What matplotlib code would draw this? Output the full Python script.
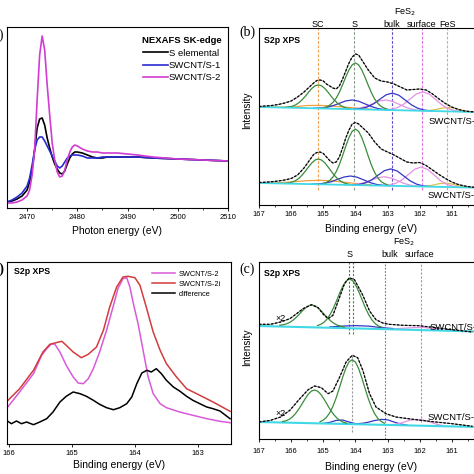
import matplotlib
matplotlib.use('Agg')
import matplotlib.pyplot as plt
from matplotlib.ticker import MultipleLocator

plt.rcParams['font.family'] = 'Liberation Sans'
plt.rcParams['font.size'] = 6
plt.rcParams['axes.linewidth'] = 0.8
plt.rcParams['xtick.major.size'] = 2.5
plt.rcParams['xtick.minor.size'] = 1.5
plt.rcParams['xtick.major.width'] = 0.6
plt.rcParams['xtick.minor.width'] = 0.5
plt.rcParams['xtick.labelsize'] = 5.5
plt.rcParams['xtick.major.pad'] = 2

# ---------------- (a) NEXAFS S K-edge ----------------
nex_e = [2466, 2467, 2468, 2469, 2470, 2470.5, 2471, 2471.5, 2472, 2472.5, 2473,
         2473.5, 2474, 2474.5, 2475, 2475.5, 2476, 2476.5, 2477, 2477.5, 2478,
         2478.5, 2479, 2479.5, 2480, 2481, 2482, 2483, 2484, 2485, 2486, 2488,
         2490, 2492, 2495, 2500, 2505, 2510]
nex_s_elem = [6, 7, 9, 12, 18, 26, 38, 58, 80, 89, 90, 83, 70, 60, 51, 44, 39, 35,
              34, 37, 44, 50, 54, 56, 56, 55, 53, 51, 50, 50, 51, 51, 51, 51, 50,
              49, 48, 47]
nex_swcnt1 = [6, 8, 11, 15, 22, 30, 43, 58, 68, 71, 71, 67, 62, 57, 52, 47, 42, 40,
              42, 46, 50, 52, 53, 53, 53, 52, 50, 50, 50, 51, 51, 51, 51, 51, 50,
              49, 48, 47]
nex_swcnt2 = [5, 5, 6, 8, 12, 18, 33, 58, 108, 153, 172, 158, 123, 93, 65, 48, 36,
              31, 32, 38, 48, 56, 61, 63, 62, 59, 57, 56, 56, 55, 55, 55, 54, 53,
              51, 49, 48, 47]
nex_labels = ['S elemental', 'SWCNT/S-1', 'SWCNT/S-2']

# ---------------- (b) S2p XPS, fitted ----------------
b_env_e = [167.0, 166.8, 166.6, 166.4, 166.2, 166.0, 165.8, 165.6, 165.4, 165.3,
           165.2, 165.1, 165.0, 164.9, 164.8, 164.7, 164.6, 164.5, 164.4, 164.3,
           164.2, 164.1, 164.0, 163.9, 163.8, 163.6, 163.4, 163.2, 163.0, 162.8,
           162.6, 162.4, 162.2, 162.0, 161.8, 161.6, 161.4, 161.2, 161.0, 160.8,
           160.6, 160.4, 160.2]
b_env_up = [93.5, 94, 94.5, 95.5, 97, 99, 103, 108, 114, 117, 119.5, 120, 119, 116,
            114, 112, 111, 114, 121, 129, 137, 143, 146, 145, 140, 130, 122, 119,
            118, 116, 113, 110, 110.5, 111, 110, 106, 101, 96.5, 93, 90.5, 89, 88.3,
            88]
b_env_lo = [17.5, 17.8, 18.3, 19, 20, 21.5, 25, 32, 41, 45.5, 47.5, 48, 46.5, 43,
            39.5, 37, 38, 43, 52, 62, 70, 76, 77.5, 76, 73, 67, 58, 51, 48, 45,
            41.5, 38, 37, 37.5, 34.5, 30, 25.5, 21.5, 18, 15.5, 14, 13, 12.5]
b_base_e = [167.0, 160.2]
b_base_up = [93.0, 87.9]
b_base_lo = [17.0, 12.3]

# green doublet components
b_sc_e = [166.15, 166.05, 165.95, 165.85, 165.75, 165.65, 165.55, 165.45, 165.35,
          165.25, 165.15, 165.05, 164.95, 164.85, 164.75, 164.65, 164.55, 164.45,
          164.35, 164.25, 164.15]
b_sc_up = [92.8, 93.2, 93.9, 95.3, 97.5, 100.5, 104.1, 108.1, 111.8, 114.3, 115.1,
           114.1, 111.5, 107.7, 103.5, 99.7, 96.6, 94.3, 92.7, 91.8, 91.3]
b_sc_lo = [16.8, 17.2, 18.1, 19.6, 21.9, 25.2, 29.2, 33.4, 37.3, 40.1, 41.0, 39.9,
           37.1, 33.0, 28.6, 24.5, 21.1, 18.6, 17.0, 16.0, 15.4]
b_s_e = [165.0, 164.9, 164.8, 164.7, 164.6, 164.5, 164.4, 164.3, 164.2, 164.1, 164.0,
         163.9, 163.8, 163.7, 163.6, 163.5, 163.4, 163.3, 163.2, 163.1, 163.0]
b_s_up = [92.3, 93.1, 94.8, 97.6, 101.8, 107.8, 115.2, 123.1, 130.2, 135.2, 137.1,
          135.1, 129.9, 122.6, 114.6, 107.1, 100.9, 96.5, 93.6, 91.8, 90.8]
b_s_lo = [16.6, 17.6, 19.6, 23.0, 28.2, 35.5, 44.3, 53.9, 62.5, 68.8, 70.9, 68.6,
          62.3, 53.5, 43.7, 34.7, 27.4, 22.0, 18.4, 16.4, 15.2]

# small components (upper / lower spectrum)
b_blue1_e_up = [165.3, 165.1, 164.9, 164.7, 164.5, 164.3, 164.1, 163.9, 163.7,
                163.5, 163.3, 163.1, 162.9]
b_blue1_up = [91.8, 92.0, 92.6, 94.3, 96.7, 99.1, 100.0, 98.8, 96.1, 93.4, 91.4,
              90.5, 90.0]
b_blue1_e_lo = [165.35, 165.15, 164.95, 164.75, 164.55, 164.35, 164.15, 163.95,
                163.75, 163.55, 163.35, 163.15, 162.95]
b_blue1_lo = [15.9, 16.1, 16.8, 18.3, 20.8, 23.0, 24.0, 22.8, 20.2, 17.5, 15.6,
              14.7, 14.3]
b_bulk_e_up = [164.05, 163.85, 163.65, 163.45, 163.25, 163.05, 162.85, 162.65,
               162.45, 162.25, 162.05, 161.85, 161.65]
b_bulk_up = [91.0, 91.4, 92.8, 95.9, 100.5, 105.1, 106.9, 104.8, 99.9, 95.0, 91.6,
             89.9, 89.2]
b_bulk_e_lo = [164.1, 163.9, 163.7, 163.5, 163.3, 163.1, 162.9, 162.7, 162.5, 162.3,
               162.1, 161.9, 161.7]
b_bulk_lo = [15.2, 15.5, 17.0, 20.0, 24.7, 29.3, 31.1, 29.0, 24.1, 19.2, 15.9, 14.1,
             13.5]
b_pink_e_up = [164.25, 164.05, 163.85, 163.65, 163.45, 163.25, 163.05, 162.85,
               162.65, 162.45, 162.25, 162.05, 161.85]
b_pink_up = [91.0, 91.2, 92.0, 93.8, 96.4, 99.0, 100.0, 98.7, 95.8, 92.9, 90.8,
             89.7, 89.2]
b_pink_e_lo = [164.3, 164.1, 163.9, 163.7, 163.5, 163.3, 163.1, 162.9, 162.7, 162.5,
               162.3, 162.1, 161.9]
b_pink_lo = [15.2, 15.4, 16.0, 17.6, 20.0, 22.3, 23.3, 22.0, 19.5, 16.7, 14.9, 14.0,
             13.5]
b_surf_e_up = [163.1, 162.9, 162.7, 162.5, 162.3, 162.1, 161.9, 161.7, 161.5, 161.3,
               161.1, 160.9, 160.7]
b_surf_up = [90.3, 90.7, 92.3, 95.8, 101.0, 106.1, 108.2, 105.8, 100.4, 94.9, 91.2,
             89.3, 88.5]
b_surf_e_lo = [163.15, 162.95, 162.75, 162.55, 162.35, 162.15, 161.95, 161.75,
               161.55, 161.35, 161.15, 160.95, 160.75]
b_surf_lo = [14.5, 15.1, 16.6, 20.2, 25.5, 30.8, 33.0, 30.5, 25.0, 19.3, 15.5, 13.7,
             12.8]
b_fes_e_up = [161.9, 161.7, 161.5, 161.3, 161.1, 160.9, 160.7, 160.5, 160.3]
b_fes_up = [89.3, 89.5, 90.5, 91.9, 92.6, 91.7, 89.9, 88.6, 88.1]
b_fes_e_lo = [162.0, 161.8, 161.6, 161.4, 161.2, 161.0, 160.8, 160.6, 160.4]
b_fes_lo = [13.6, 13.8, 14.8, 16.3, 16.9, 16.0, 14.2, 13.0, 12.5]
b_orng_e = [166.7, 166.3, 165.9, 165.5, 165.1, 164.7, 164.3, 163.9, 163.5]
b_orng_up = [92.9, 92.9, 93.2, 94.5, 94.6, 93.9, 92.8, 91.7, 90.8]
b_orng_lo = [17.0, 17.5, 18.3, 19.3, 19.7, 19.0, 17.6, 16.2, 15.2]

b_line_pos = [165.16, 164.03, 162.87, 161.93, 161.14]
b_line_col = ['#f0a050', '#8c9a8c', '#5a50c8', '#e070e0', '#e0b050']
b_peak_names = ['SC', 'S', 'bulk', 'surface', 'FeS']
xps_ticks = [167, 166, 165, 164, 163, 162, 161]

# ---------------- (c) S2p XPS after treatment ----------------
c_env_e = [167.0, 166.64, 166.33, 166.04, 165.83, 165.63, 165.37, 165.16, 165.0,
           164.85, 164.7, 164.49, 164.34, 164.19, 164.03, 163.88, 163.77, 163.56,
           163.36, 163.15, 162.95, 162.53, 162.02, 161.5, 160.99, 160.36]
c_env_up = [114.7, 114.7, 117, 120.3, 125.3, 130.3, 134.3, 131.3, 124.7, 120.3,
            123.7, 142, 155.3, 161.3, 159.3, 150.3, 143.7, 128, 119.3, 116, 114.7,
            113.7, 113.3, 111.3, 109.3, 107]
c_env_e_lo = [167.0, 166.64, 166.33, 166.04, 165.73, 165.47, 165.27, 165.06, 164.85,
              164.7, 164.49, 164.29, 164.1, 163.93, 163.77, 163.56, 163.36, 163.05,
              162.74, 162.12, 161.5, 160.99, 160.36]
c_env_lo = [17, 18.7, 22, 28.7, 40.3, 49.3, 53, 51.3, 45.3, 48, 62, 77, 83.7, 81.3,
            68.7, 45.3, 32, 25.3, 22, 19.3, 17, 15.3, 12.7]
c_base_e = [167.0, 160.2]
c_base_up = [113.0, 107.5]
c_base_lo = [17.0, 12.0]
c_g1_e_up = [166.35, 166.25, 166.15, 166.05, 165.95, 165.85, 165.75, 165.65, 165.55,
             165.45, 165.35, 165.25, 165.15, 165.05, 164.95, 164.85, 164.75, 164.65,
             164.55, 164.45, 164.35]
c_g1_up = [113.8, 114.2, 115.1, 116.5, 118.6, 121.4, 124.7, 128.2, 131.2, 133.3,
           134.0, 133.1, 130.8, 127.6, 124.0, 120.6, 117.6, 115.3, 113.7, 112.6, 112.0]
c_g2_e_up = [165.18, 165.08, 164.98, 164.88, 164.78, 164.68, 164.58, 164.48, 164.38,
             164.28, 164.18, 164.08, 163.98, 163.88, 163.78, 163.68, 163.58, 163.48,
             163.38, 163.28, 163.18]
c_g2_up = [113.5, 114.6, 116.7, 120.0, 124.9, 131.2, 138.8, 146.7, 153.6, 158.3,
           160.0, 158.1, 153.2, 146.1, 138.2, 130.4, 123.9, 118.8, 115.3, 113.0, 111.8]
c_g1_e_lo = [166.27, 166.17, 166.07, 165.97, 165.87, 165.77, 165.67, 165.57, 165.47,
             165.37, 165.27, 165.17, 165.07, 164.97, 164.87, 164.77, 164.67, 164.57,
             164.47, 164.37, 164.27]
c_g1_lo = [17.4, 18.1, 19.5, 21.8, 25.2, 29.5, 34.6, 39.9, 44.7, 47.9, 49.0, 47.7,
           44.4, 39.5, 34.0, 28.7, 24.2, 20.8, 18.3, 16.7, 15.8]
c_g2_e_lo = [165.1, 165.0, 164.9, 164.8, 164.7, 164.6, 164.5, 164.4, 164.3, 164.2,
             164.1, 164.0, 163.9, 163.8, 163.7, 163.6, 163.5, 163.4, 163.3, 163.2,
             163.1]
c_g2_lo = [17.3, 18.9, 21.7, 26.2, 32.7, 41.1, 51.1, 61.5, 70.7, 77.1, 79.3, 77.0,
           70.4, 61.0, 50.5, 40.4, 31.8, 25.1, 20.5, 17.6, 15.8]
c_blue_e_lo = [165.0, 164.8, 164.6, 164.4, 164.2, 164.0, 163.8, 163.6, 163.4, 163.2,
               163.0, 162.8, 162.6, 162.4]
c_blue_lo = [15.6, 16.6, 18.6, 19.0, 17.0, 15.3, 15.6, 16.8, 18.5, 19.6, 19.2, 17.0,
             15.0, 14.0]
c_pink_e_lo = [162.9, 162.7, 162.5, 162.3, 162.1, 161.9, 161.7, 161.5, 161.3]
c_pink_lo = [14.2, 15.0, 16.8, 18.8, 19.6, 19.0, 17.2, 15.0, 13.6]
c_blue_e_up = [164.8, 164.4, 164.0, 163.6, 163.2, 162.8]
c_blue_up = [112.0, 112.9, 113.4, 112.9, 111.4, 110.4]
c_pink_e_up = [162.8, 162.5, 162.2, 161.9, 161.6, 161.3]
c_pink_up = [110.2, 110.8, 111.4, 111.6, 110.5, 109.4]

# ---------------- (d) S2p XPS, SWCNT/S-2 vs S-2i ----------------
d_s2_e = [166.04, 165.83, 165.61, 165.48, 165.40, 165.32, 165.27, 165.19, 165.09,
          164.98, 164.90, 164.82, 164.74, 164.66, 164.56, 164.45, 164.34, 164.27,
          164.19, 164.13, 164.08, 164.03, 163.95, 163.87, 163.79, 163.71, 163.60,
          163.50, 163.29, 163.08, 162.86, 162.65, 162.49]
d_s2 = [35.3, 52, 70.3, 88.7, 95.3, 100.3, 99.7, 92, 78.7, 67, 61, 60.3, 65.3, 75.3,
        92, 113.7, 138.7, 155.3, 165.3, 166.3, 157, 142, 120.3, 93.7, 67, 50.3, 40.3,
        36.3, 32, 28.7, 25.3, 22.7, 21.3]
d_s2i_e = [166.04, 165.83, 165.61, 165.46, 165.35, 165.27, 165.16, 165.09, 164.98,
           164.85, 164.74, 164.61, 164.50, 164.40, 164.29, 164.19, 164.11, 164.00,
           163.92, 163.82, 163.71, 163.60, 163.50, 163.34, 163.18, 162.97, 162.76,
           162.49]
d_s2i = [42, 55.3, 73.7, 92, 99.7, 101, 102.7, 98.7, 92, 86.3, 89.7, 97, 113.7, 137,
         157, 167, 167.7, 166.3, 158.7, 137, 112, 93.7, 80.3, 67, 55.3, 48.7, 42, 32.7]
d_diff_e = [166.04, 165.96, 165.88, 165.80, 165.72, 165.61, 165.51, 165.40, 165.30,
            165.19, 165.09, 164.98, 164.87, 164.77, 164.66, 164.56, 164.45, 164.34,
            164.24, 164.13, 164.05, 163.97, 163.89, 163.81, 163.74, 163.66, 163.58,
            163.50, 163.39, 163.29, 163.18, 163.08, 162.97, 162.86, 162.76, 162.65,
            162.49]
d_diff = [23.7, 20.3, 23, 20.3, 22, 19.3, 22, 25.3, 32, 42, 47.7, 52, 50.3, 47.7,
          43.7, 39.7, 36.3, 34.3, 36.3, 40.3, 47, 60.3, 71, 73.7, 72, 75.3, 70.3, 63.7,
          57, 53, 47.7, 43.7, 40.3, 37, 35.3, 33, 25.3]
d_labels = ['SWCNT/S-2', 'SWCNT/S-2i', 'difference']

GREEN = '#3b8c3b'
BLUE = '#3535c5'
VIOLET = '#e592e5'
ORANGE = '#f0a040'
YELLOW = '#d8c050'
CYAN = '#3fd8e6'

W = 474.0
fig = plt.figure(figsize=(4.74, 4.74), dpi=100)


def box(x0, y0, x1, y1):
    return [x0 / W, 1 - y1 / W, (x1 - x0) / W, (y1 - y0) / W]


def bare(ax):
    ax.set_yticks([])
    ax.tick_params(axis='x', which='both', direction='out', top=False)


def envelope(ax, e, y):
    ax.plot(e, y, color='#777777', lw=0.6)
    ax.plot(e, y, color='black', lw=0.9, ls=(0, (2, 1.2)))


# ---- panel (a)
ax = fig.add_axes(box(7, 27, 228, 208))
ax.plot(nex_e, nex_s_elem, color='black', lw=1.2, label=nex_labels[0])
ax.plot(nex_e, nex_swcnt1, color='#2a2ad0', lw=1.2, label=nex_labels[1])
ax.plot(nex_e, nex_swcnt2, color='#d23cd2', lw=1.2, label=nex_labels[2])
ax.set_xlim(2466, 2510)
ax.set_ylim(0, 181)
ax.xaxis.set_major_locator(MultipleLocator(10))
ax.xaxis.set_minor_locator(MultipleLocator(5))
bare(ax)
ax.set_xlabel('Photon energy (eV)', fontsize=7.5, labelpad=3.5)
leg = ax.legend(loc='upper right', bbox_to_anchor=(1.0, 0.985), frameon=False,
                title='NEXAFS SK-edge', fontsize=6.8, handlelength=2.6,
                handletextpad=0.15, labelspacing=0.35, borderpad=0.2,
                title_fontproperties={'weight': 'bold', 'size': 6.8})
leg._legend_box.align = 'right'
fig.text(4 / W, 1 - 35 / W, '(a)', family='Liberation Serif', fontsize=10,
         ha='right', va='center')

# ---- panel (b)
ax = fig.add_axes(box(259, 28, 484, 205))
ax.vlines(b_line_pos, 10, 172, colors=b_line_col, lw=0.8, linestyles=(0, (2.5, 1.5)))
for e_up, y_up, e_lo, y_lo, col in [
        (b_orng_e, b_orng_up, b_orng_e, b_orng_lo, ORANGE),
        (b_fes_e_up, b_fes_up, b_fes_e_lo, b_fes_lo, YELLOW),
        (b_pink_e_up, b_pink_up, b_pink_e_lo, b_pink_lo, VIOLET),
        (b_surf_e_up, b_surf_up, b_surf_e_lo, b_surf_lo, VIOLET),
        (b_blue1_e_up, b_blue1_up, b_blue1_e_lo, b_blue1_lo, BLUE),
        (b_bulk_e_up, b_bulk_up, b_bulk_e_lo, b_bulk_lo, BLUE),
        (b_sc_e, b_sc_up, b_sc_e, b_sc_lo, GREEN),
        (b_s_e, b_s_up, b_s_e, b_s_lo, GREEN)]:
    ax.plot(e_up, y_up, color=col, lw=0.9)
    ax.plot(e_lo, y_lo, color=col, lw=0.9)
ax.plot(b_base_e, b_base_up, color=CYAN, lw=1.3)
ax.plot(b_base_e, b_base_lo, color=CYAN, lw=1.3)
envelope(ax, b_env_e, b_env_up)
envelope(ax, b_env_e, b_env_lo)
ax.set_xlim(167, 160)
ax.set_ylim(-5, 172)
ax.set_xticks(xps_ticks)
ax.xaxis.set_minor_locator(MultipleLocator(0.5))
bare(ax)
ax.set_xlabel('Binding energy (eV)', fontsize=7.5, labelpad=4.5)
ax.text(0.022, 0.955, 'S2p XPS', transform=ax.transAxes, fontsize=6.3,
        fontweight='bold', va='top')
trans = ax.get_xaxis_transform()
for pos, name in zip(b_line_pos, b_peak_names):
    ax.text(pos, 1.008, name, transform=trans, fontsize=6.5, ha='center',
            va='baseline')
ax.text(162.45, 1.074, 'FeS$_2$', transform=trans, fontsize=6.5, ha='center',
        va='baseline')
ax.text(161.71, 78.5, 'SWCNT/S-1', fontsize=6.8, va='center')
ax.text(161.77, 4, 'SWCNT/S-2', fontsize=6.8, va='center')
fig.text(247 / W, 1 - 110 / W, 'Intensity', rotation=90, fontsize=7.2,
         ha='center', va='center')
fig.text(247 / W, 1 - 32 / W, '(b)', family='Liberation Serif', fontsize=10,
         ha='center', va='center')

# ---- panel (d) bottom left
ax = fig.add_axes(box(7, 262, 231, 444))
ax.plot(d_s2_e, d_s2, color='#d95ad9', lw=1.1, label=d_labels[0])
ax.plot(d_s2i_e, d_s2i, color='#d23c3c', lw=1.1, label=d_labels[1])
ax.plot(d_diff_e, d_diff, color='black', lw=1.1, label=d_labels[2])
ax.set_xlim(166.03, 162.475)
ax.set_ylim(0, 182)
ax.xaxis.set_major_locator(MultipleLocator(1))
bare(ax)
ax.set_xlabel('Binding energy (eV)', fontsize=7.5, labelpad=2)
ax.text(0.03, 0.97, 'S2p XPS', transform=ax.transAxes, fontsize=6.3,
        fontweight='bold', va='top')
ax.legend(loc='upper right', bbox_to_anchor=(0.985, 0.99), frameon=False,
          fontsize=5.3, handlelength=3.2, handletextpad=0.5, labelspacing=0.4)
fig.text(4 / W, 1 - 269 / W, '(d)', family='Liberation Serif', fontsize=10,
         fontweight='bold', ha='right', va='center')

# ---- panel (c)
ax = fig.add_axes(box(259, 262, 484, 439))
ax.vlines([164.21, 164.07], 105, 177, colors=GREEN, lw=0.8, linestyles=(0, (2, 1.5)))
ax.vlines([164.1], 7, 85, colors='#999999', lw=0.8, linestyles=(0, (2, 1.5)))
ax.vlines([163.08], 0, 177, colors='#8060c0', lw=0.8, linestyles=(0, (1.5, 1.5)))
ax.vlines([161.96], 17, 177, colors='#e070e0', lw=0.8, linestyles=(0, (2, 1.5)))
ax.plot(c_blue_e_up, c_blue_up, color=BLUE, lw=0.9)
ax.plot(c_pink_e_up, c_pink_up, color=VIOLET, lw=0.9)
ax.plot(c_blue_e_lo, c_blue_lo, color=BLUE, lw=0.9)
ax.plot(c_pink_e_lo, c_pink_lo, color=VIOLET, lw=0.9)
ax.plot(c_base_e, c_base_up, color=CYAN, lw=1.5)
ax.plot(c_base_e, c_base_lo, color=CYAN, lw=1.5)
ax.plot(c_g1_e_up, c_g1_up, color=GREEN, lw=0.9)
ax.plot(c_g2_e_up, c_g2_up, color=GREEN, lw=0.9)
ax.plot(c_g1_e_lo, c_g1_lo, color=GREEN, lw=0.9)
ax.plot(c_g2_e_lo, c_g2_lo, color=GREEN, lw=0.9)
envelope(ax, c_env_e, c_env_up)
envelope(ax, c_env_e_lo, c_env_lo)
ax.set_xlim(167, 160)
ax.set_ylim(0, 177)
ax.set_xticks(xps_ticks)
ax.xaxis.set_minor_locator(MultipleLocator(0.5))
bare(ax)
ax.tick_params(axis='x', which='major', pad=4)
ax.set_xlabel('Binding energy (eV)', fontsize=7.5, labelpad=5)
ax.text(0.022, 0.96, 'S2p XPS', transform=ax.transAxes, fontsize=6.3,
        fontweight='bold', va='top')
trans = ax.get_xaxis_transform()
ax.text(164.17, 1.028, 'S', transform=trans, fontsize=6.5, ha='center',
        va='baseline')
ax.text(162.93, 1.028, 'bulk', transform=trans, fontsize=6.5, ha='center',
        va='baseline')
ax.text(162.0, 1.028, 'surface', transform=trans, fontsize=6.5, ha='center',
        va='baseline')
ax.text(162.48, 1.1, 'FeS$_2$', transform=trans, fontsize=6.5, ha='center',
        va='baseline')
ax.text(166.5, 120.5, '\u00d72', fontsize=6.5, va='center', zorder=5)
ax.text(166.5, 26, '\u00d72', fontsize=6.5, va='center', zorder=5)
ax.text(161.68, 112, 'SWCNT/S-1', fontsize=6.8, va='center')
ax.text(161.77, 22, 'SWCNT/S-2', fontsize=6.8, va='center')
fig.text(247 / W, 1 - 347 / W, 'Intensity', rotation=90, fontsize=7.2,
         ha='center', va='center')
fig.text(247 / W, 1 - 269 / W, '(c)', family='Liberation Serif', fontsize=10,
         ha='center', va='center')

fig.savefig('out.png', dpi=100)
